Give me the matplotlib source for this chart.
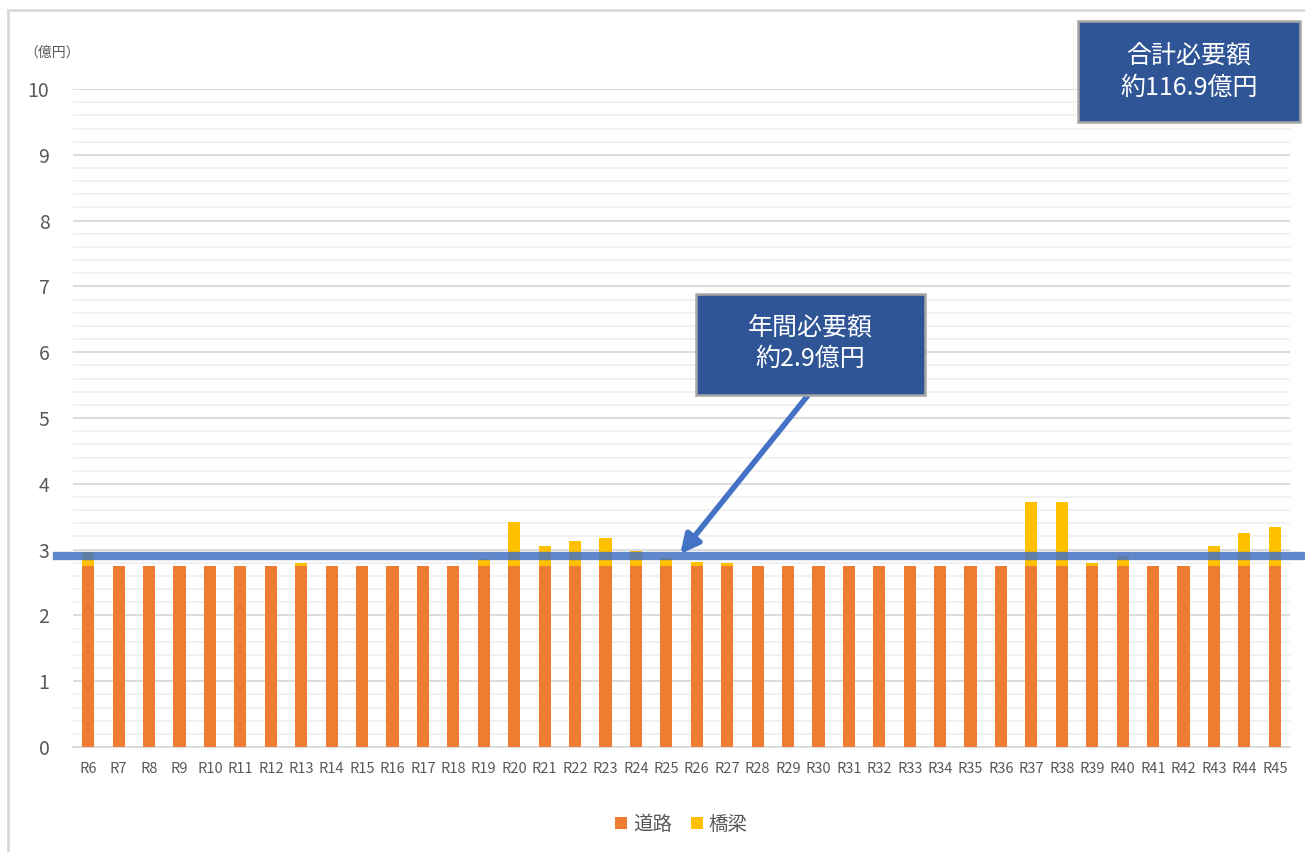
import numpy as np
import matplotlib
matplotlib.use('Agg')
import matplotlib.pyplot as plt
from matplotlib.patches import Rectangle
from matplotlib.ticker import MultipleLocator

plt.rcParams['font.family'] = ['Noto Sans CJK JP', 'DejaVu Sans']

# データ（億円）
years = ['R' + str(i) for i in range(6, 46)]
douro = [2.75] * 40
kyouryou = [0.22, 0, 0, 0, 0, 0, 0, 0.04, 0, 0, 0, 0, 0, 0.11, 0.67, 0.30, 0.38, 0.43, 0.23, 0.12,
            0.06, 0.05, 0, 0, 0, 0, 0, 0, 0, 0, 0, 0.97, 0.97, 0.05, 0.15, 0, 0, 0.30, 0.50, 0.59]
annual = 2.9
total_label = '合計必要額\n約116.9億円'
annual_label = '年間必要額\n約2.9億円'

c_road = '#ED7D31'
c_bridge = '#FFC000'
c_line = '#4472C4'
c_box = '#2F5597'

fig = plt.figure(figsize=(13.05, 8.52), dpi=100)
ax = fig.add_axes([0.056, 0.1232, 0.9325, 0.7723])

x = np.arange(len(years))
ax.bar(x, douro, width=0.4, color=c_road, label='道路', zorder=3)
ax.bar(x, kyouryou, width=0.4, bottom=douro, color=c_bridge, label='橋梁', zorder=3)

ax.set_xlim(-0.5, len(years) - 0.5)
ax.set_ylim(0, 10)
ax.yaxis.set_major_locator(MultipleLocator(1))
ax.yaxis.set_minor_locator(MultipleLocator(0.2))
ax.grid(axis='y', which='major', color='#d9d9d9', linewidth=1.3, zorder=0)
ax.grid(axis='y', which='minor', color='#f0f0f0', linewidth=1.3, zorder=0)
ax.set_axisbelow(True)
for s in ['top', 'right', 'left']:
    ax.spines[s].set_visible(False)
ax.spines['bottom'].set_color('#d9d9d9')
ax.spines['bottom'].set_linewidth(1.3)

ax.set_xticks(x)
ax.set_xticklabels(years, fontsize=10.5, color='#595959')
ax.tick_params(axis='x', length=0, pad=11)
ax.tick_params(axis='y', which='both', length=0, labelsize=14, labelcolor='#595959', pad=17)

fig.text(0.019, 0.938, '（億円）', fontsize=10, color='#595959', va='center')

# 年間必要額ライン
trans = ax.get_yaxis_transform()
ax.plot([-0.013, 1.015], [annual, annual], transform=trans, color=c_line,
        linewidth=6, alpha=0.85, clip_on=False, zorder=4)

# 矢印
ax.annotate('', xy=(19.4, annual), xytext=(23.75, 5.4),
            arrowprops=dict(arrowstyle='-|>', color=c_line, lw=4, mutation_scale=28),
            zorder=5)

# 注記ボックス
boxes = [((0.5333, 0.5364), 0.1755, annual_label, (0.621, 0.5974)),
         ((0.826, 0.8568), 0.170, total_label, (0.911, 0.9155))]
for (bx, by), bw, label, (tx, ty) in boxes:
    fig.patches.append(Rectangle((bx, by), bw, 0.1185, transform=fig.transFigure,
                                 facecolor=c_box, edgecolor='#a6a6a6', linewidth=1.8, zorder=6))
    fig.text(tx, ty, label, fontsize=18, color='white', ha='center', va='center',
             linespacing=1.25, zorder=7)

# 凡例
ax.legend(loc='upper center', bbox_to_anchor=(0.5, -0.075), ncol=2, frameon=False,
          fontsize=14, handlelength=0.6, handleheight=0.6, handletextpad=0.3,
          columnspacing=1.0, labelcolor='#595959')

# 外枠
fig.patches.append(Rectangle((0.006, -0.05), 1.2, 1.038, transform=fig.transFigure,
                             fill=False, edgecolor='#d9d9d9', linewidth=2))

fig.savefig('out.png', dpi=100)
